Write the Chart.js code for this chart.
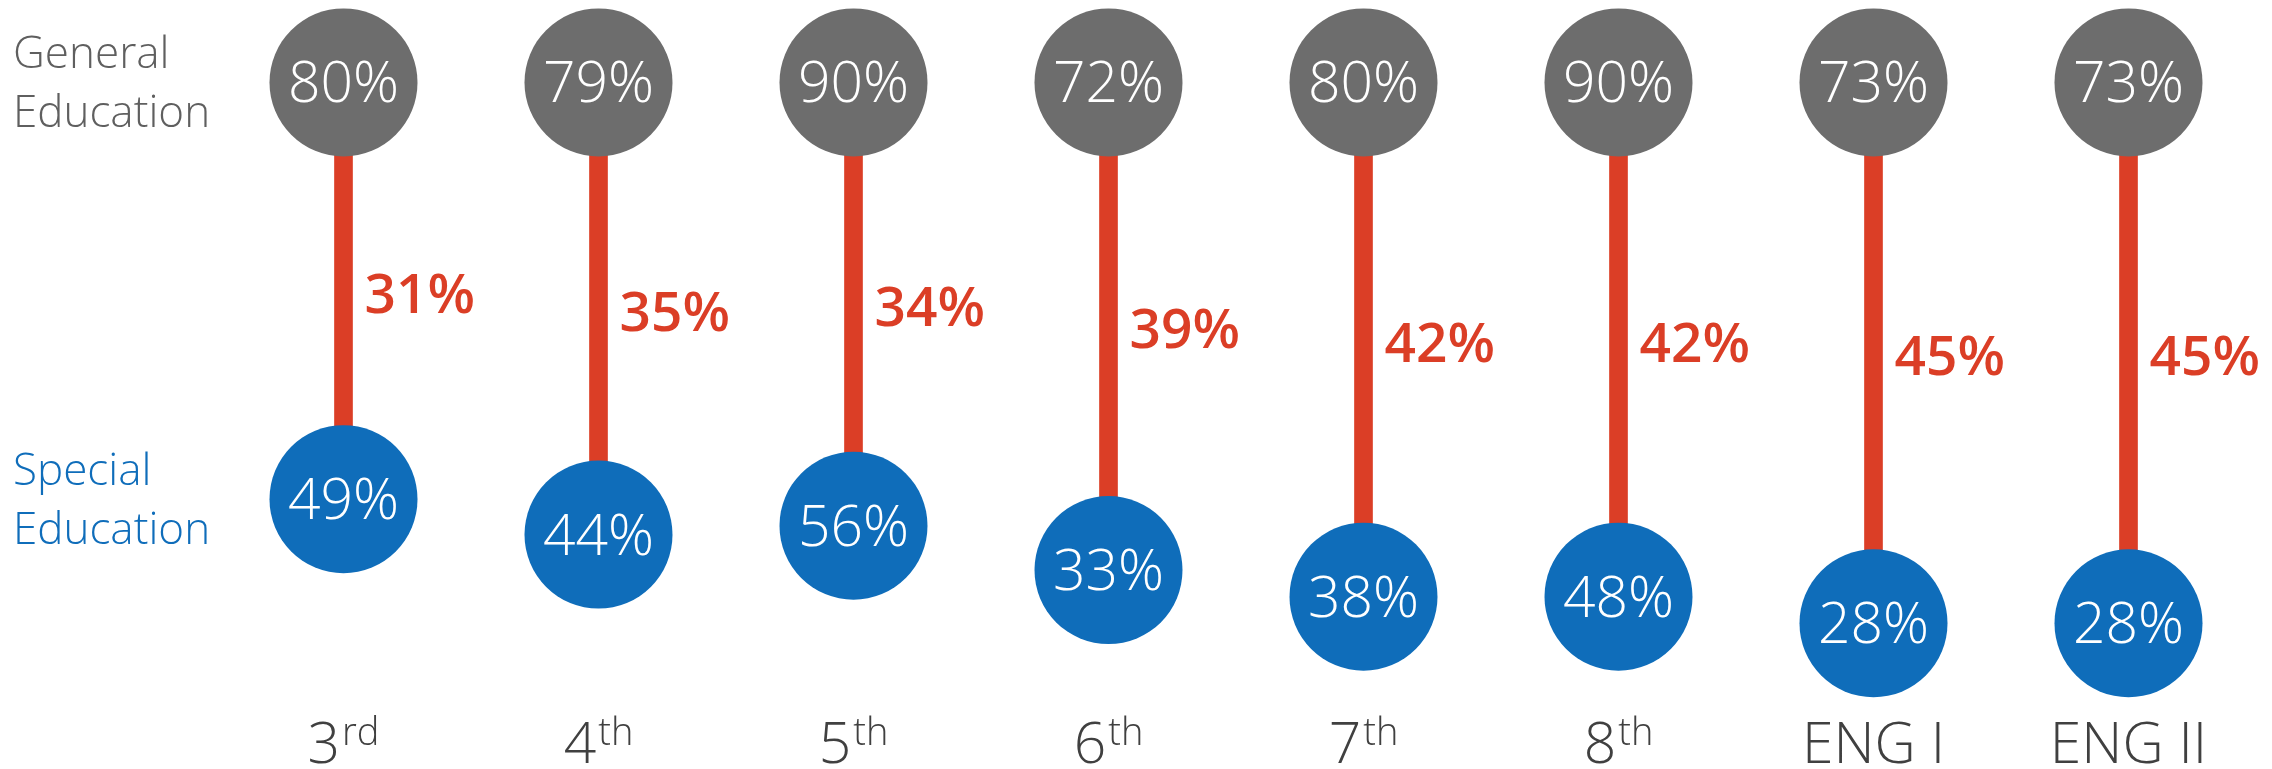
<!DOCTYPE html>
<html>
<head>
<meta charset="utf-8">
<script src="https://cdn.jsdelivr.net/npm/chart.js@4.4.0/dist/chart.umd.min.js"></script>
<style>
  html, body { margin: 0; padding: 0; background: #fff; }
  #wrap { width: 2272px; height: 769px; position: relative; }
</style>
</head>
<body>
<div id="wrap"><canvas id="gapChart"></canvas></div>
<script>
// values
const grades = ['3', '4', '5', '6', '7', '8', 'ENG I', 'ENG II'];
const gradeSuffix = ['rd', 'th', 'th', 'th', 'th', 'th', '', ''];
const generalEd = [80, 79, 90, 72, 80, 90, 73, 73];
const specialEd = [49, 44, 56, 33, 38, 48, 28, 28];
const gaps = [31, 35, 34, 39, 42, 42, 45, 45];
const rowLabels = [['General', 'Education'], ['Special', 'Education']];

const GREY = '#6d6d6d';
const BLUE = '#0f6dba';
const RED = '#db3e26';
const TOP_ROW = -16; // general ed circles sit on one row above the gap scale
const FONT = '"Open Sans", "DejaVu Sans", sans-serif';

const labelPlugin = {
  id: 'gapLabels',
  afterDatasetsDraw(chart) {
    const ctx = chart.ctx;
    const top = chart.getDatasetMeta(0).data;
    const bottom = chart.getDatasetMeta(1).data;
    ctx.save();

    // percentages inside the circles
    ctx.textAlign = 'center';
    ctx.textBaseline = 'alphabetic';
    ctx.fillStyle = '#fff';
    ctx.font = '300 57px ' + FONT;
    top.forEach((p, i) => ctx.fillText(generalEd[i] + '%', p.x, p.y + 20));
    bottom.forEach((p, i) => ctx.fillText(specialEd[i] + '%', p.x, p.y + 20));

    // gap labels next to the stems
    ctx.textAlign = 'left';
    ctx.fillStyle = RED;
    ctx.font = '600 55px ' + FONT;
    top.forEach((p, i) => {
      const mid = (p.y + bottom[i].y) / 2;
      ctx.fillText(gaps[i] + '%', p.x + 21, mid + 22);
    });

    // grade labels with superscripts
    const base = chart.chartArea.bottom + 83;
    ctx.fillStyle = '#404040';
    top.forEach((p, i) => {
      ctx.font = '300 57px ' + FONT;
      const w1 = ctx.measureText(grades[i]).width;
      ctx.font = '300 38px ' + FONT;
      const w2 = gradeSuffix[i] ? ctx.measureText(gradeSuffix[i]).width + 2 : 0;
      const start = p.x - (w1 + w2) / 2;
      ctx.font = '300 57px ' + FONT;
      ctx.fillText(grades[i], start, base);
      if (gradeSuffix[i]) {
        ctx.font = '300 38px ' + FONT;
        ctx.fillText(gradeSuffix[i], start + w1 + 2, base - 18);
      }
    });

    // row labels on the left
    ctx.font = '300 44px ' + FONT;
    const rows = [top[0].y, bottom[0].y];
    ['#5f5f5f', BLUE].forEach((c, r) => {
      ctx.fillStyle = c;
      ctx.fillText(rowLabels[r][0], 13, rows[r] - 14);
      ctx.fillText(rowLabels[r][1], 13, rows[r] + 45);
    });
    ctx.restore();
  }
};

new Chart(document.getElementById('gapChart'), {
  type: 'bar',
  data: {
    labels: grades,
    datasets: [
      {
        type: 'line',
        label: 'General Education',
        data: generalEd.map(() => TOP_ROW),
        showLine: false,
        pointRadius: 74,
        pointBorderWidth: 0,
        pointBackgroundColor: GREY,
        clip: false,
        order: 1
      },
      {
        type: 'line',
        label: 'Special Education',
        data: gaps,
        showLine: false,
        pointRadius: 74,
        pointBorderWidth: 0,
        pointBackgroundColor: BLUE,
        clip: false,
        order: 1
      },
      {
        label: 'Gap',
        data: gaps.map(g => [TOP_ROW, g]),
        backgroundColor: RED,
        barThickness: 18,
        borderSkipped: false,
        order: 2
      }
    ]
  },
  options: {
    responsive: true,
    maintainAspectRatio: false,
    animation: false,
    events: [],
    layout: { autoPadding: false, padding: { left: 216, right: 16, top: 0, bottom: 89 } },
    plugins: { legend: { display: false }, tooltip: { enabled: false } },
    scales: {
      x: { display: false, offset: true, grid: { display: false } },
      y: { display: false, reverse: true, min: -25.3, max: 51.4 }
    }
  },
  plugins: [labelPlugin]
});
</script>
</body>
</html>
